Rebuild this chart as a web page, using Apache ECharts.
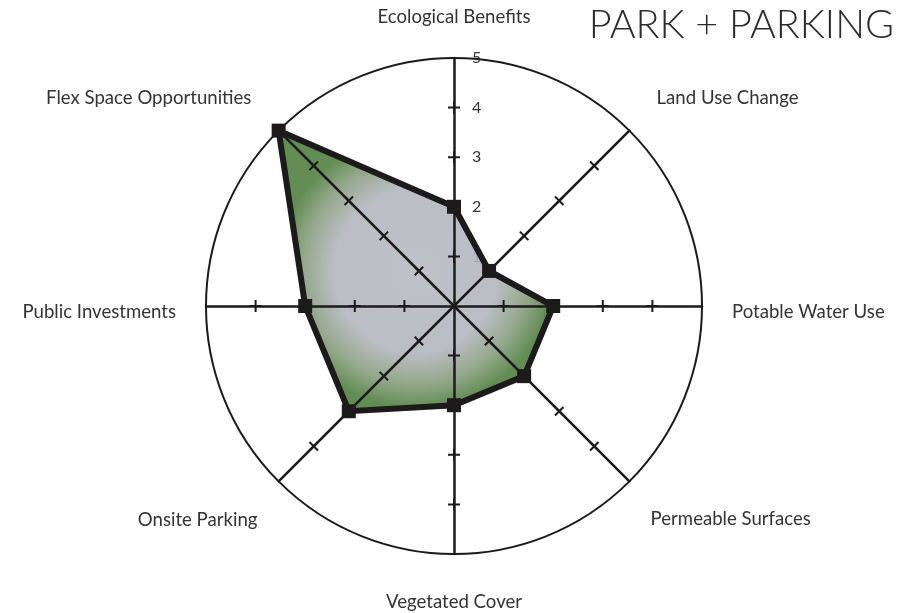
<!DOCTYPE html>
<html>
<head>
<meta charset="utf-8">
<script src="https://cdn.jsdelivr.net/npm/echarts@6/dist/echarts.min.js"></script>
<style>
  html, body { margin: 0; padding: 0; background: #fff; }
  #chart { width: 909px; height: 613px; }
</style>
</head>
<body>
<div id="chart"></div>
<script>
// Criteria, listed clockwise starting from the top
const criteria = [
  'Ecological Benefits',
  'Land Use Change',
  'Potable Water Use',
  'Permeable Surfaces',
  'Vegetated Cover',
  'Onsite Parking',
  'Public Investments',
  'Flex Space Opportunities'
];
// Score for each criterion (0–5), same order
const scores = [2, 1, 2, 2, 2, 3, 3, 5];
const scaleMax = 5;
// Labelled steps on the vertical spoke, and tick marks crossing every spoke
const scaleLabels = [1, 2, 3, 4, 5];
const crossTicks = [1, 2, 3, 4];

// Per-label padding [top, right, bottom, left] used to nudge each axis name
const namePadding = [
  [0, 0, 2, 0],
  [0, 0, 22, 6],
  [12, 0, 0, 0],
  [32, 0, 0, 0],
  [8, 0, 0, 0],
  [34, 0, 0, 0],
  [12, 0, 0, 0],
  [0, 6, 22, 0]
];

// ECharts lays radar indicators out counter-clockwise, so keep the first
// one on top and reverse the rest.
const order = [0].concat(criteria.map((_, i) => i).slice(1).reverse());
const indicators = order.map(i => ({ name: criteria[i], max: scaleMax, min: 0 }));
const values = order.map(i => scores[i]);

const CENTER = [454, 306];
const RADIUS = 248;
const INK = '#1c1a1b';
const FONT = 'Lato, "Noto Sans", sans-serif';
// small cross: one bar runs along the spoke, the other is the tick
const CROSS = 'path://M0,5H12V7H0Z M5,0H7V12H5Z';

const nameRich = {};
criteria.forEach((_, i) => {
  nameRich['n' + i] = {
    fontFamily: FONT, fontSize: 18.6, color: '#333',
    padding: namePadding[i]
  };
});

const hiddenRadar = (startAngle) => ({
  center: CENTER, radius: RADIUS, startAngle: startAngle, shape: 'circle',
  splitNumber: 5,
  indicator: [0, 1, 2, 3].map(() => ({ name: '', max: scaleMax, min: 0 })),
  axisName: { show: false }, axisLine: { show: false }, axisTick: { show: false },
  axisLabel: { show: false }, splitLine: { show: false }, splitArea: { show: false }
});

const tickSeries = (radarIndex, rotate) => ({
  type: 'radar',
  radarIndex: radarIndex,
  z: 3,
  silent: true,
  symbol: CROSS,
  symbolSize: 12,
  symbolRotate: rotate,
  itemStyle: { color: INK },
  lineStyle: { width: 0, opacity: 0 },
  data: crossTicks.map(t => ({ value: [t, t, t, t] }))
});

const chart = echarts.init(document.getElementById('chart'), null, { renderer: 'canvas' });
chart.setOption({
  backgroundColor: '#ffffff',
  animation: false,
  title: {
    text: 'PARK + PARKING',
    right: 10,
    top: 0,
    textStyle: { fontFamily: FONT, fontSize: 39.5, fontWeight: 300, color: '#2b2b2b' }
  },
  radar: [
    {
      // spokes sit above the filled area
      z: 3,
      center: CENTER,
      radius: RADIUS,
      startAngle: 90,
      shape: 'circle',
      splitNumber: 5,
      indicator: indicators,
      splitLine: { show: false },
      splitArea: { show: false },
      axisLabel: { show: false },
      axisTick: { show: false },
      axisName: {
        color: '#333', fontSize: 18.6, fontFamily: FONT,
        formatter: name => '{n' + criteria.indexOf(name) + '|' + name + '}',
        rich: nameRich
      },
      nameGap: 30,
      axisLine: { show: true, lineStyle: { color: INK, width: 2.5 } }
    },
    hiddenRadar(90),   // vertical and horizontal spokes
    hiddenRadar(45)    // diagonal spokes
  ],
  // outer ring
  polar: { center: CENTER, radius: RADIUS },
  angleAxis: {
    type: 'value', min: 0, max: 360, startAngle: 90,
    axisLine: { show: true, lineStyle: { color: INK, width: 2 } },
    axisTick: { show: false }, axisLabel: { show: false }, splitLine: { show: false }
  },
  radiusAxis: {
    type: 'value', min: 0, max: scaleMax,
    axisLine: { show: false }, axisTick: { show: false },
    axisLabel: { show: false }, splitLine: { show: false }
  },
  // value scale printed beside the top spoke
  grid: { left: CENTER[0], top: CENTER[1] - RADIUS, width: 10, height: RADIUS },
  xAxis: { type: 'value', show: false },
  yAxis: {
    type: 'value', min: 0, max: scaleMax, interval: 1,
    axisLine: { show: false }, axisTick: { show: false }, splitLine: { show: false },
    axisLabel: {
      inside: true, margin: 18, fontFamily: FONT, fontSize: 16, color: '#333',
      formatter: v => (scaleLabels.indexOf(v) >= 0 ? String(v) : '')
    }
  },
  series: [
    {
      // filled score area
      type: 'radar',
      radarIndex: 0,
      symbol: 'none',
      lineStyle: { width: 0, opacity: 0 },
      areaStyle: {
        opacity: 1,
        color: {
          type: 'radial', x: 0.5, y: 0.5, r: 0.5,
          colorStops: [
            { offset: 0, color: 'rgba(182,185,193,0.88)' },
            { offset: 0.6, color: 'rgba(177,180,188,0.88)' },
            { offset: 0.82, color: 'rgba(134,156,124,0.88)' },
            { offset: 1, color: 'rgba(76,125,60,0.88)' }
          ]
        }
      },
      data: [{ value: values, name: 'PARK + PARKING' }]
    },
    tickSeries(1, 0),
    tickSeries(2, 45),
    {
      // outline and vertex markers
      type: 'radar',
      radarIndex: 0,
      z: 5,
      symbol: 'rect',
      symbolSize: 14,
      itemStyle: { color: INK },
      lineStyle: { color: INK, width: 6, join: 'miter' },
      data: [{ value: values, name: 'PARK + PARKING' }]
    }
  ]
});
</script>
</body>
</html>
